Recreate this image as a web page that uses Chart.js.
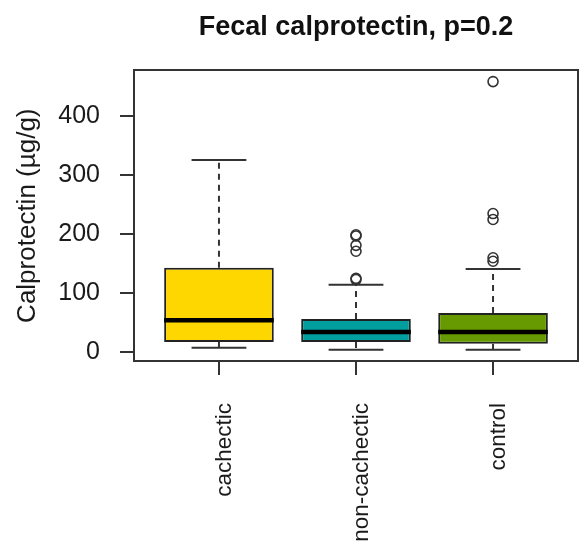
<!DOCTYPE html>
<html>
<head>
<meta charset="utf-8">
<script src="https://cdn.jsdelivr.net/npm/chart.js@4.4.1/dist/chart.umd.min.js"></script>
<style>
  html, body { margin: 0; padding: 0; background: #ffffff; }
  #wrap { width: 579px; height: 543px; }
</style>
</head>
<body>
<div id="wrap"><canvas id="c" width="579" height="543"></canvas></div>
<script>
// ---- data ----
const categories = ['cachectic', 'non-cachectic', 'control'];
const lowerWhisker = [7, 4, 4];
const q1 = [17, 17, 14];
const median = [54, 34, 34];
const q3 = [143, 56, 66];
const upperWhisker = [326, 114, 141];
const outliersCachectic = [];
const outliersNonCachectic = [123, 125, 171, 181, 197, 199];
const outliersControl = [154, 160, 225, 235, 459];
const yTickValues = [0, 100, 200, 300, 400];
const boxColors = ['#FFD700', '#009E9E', '#669A00'];

// ---- derived structures for the library ----
const positions = categories.map((_, i) => i + 1);
const halfBox = 0.4, halfCap = 0.2;
const allOutliers = [outliersCachectic, outliersNonCachectic, outliersControl];

const boxData = positions.map((p, i) => ({ x: p, y: [q1[i], q3[i]] }));
const medianData = [];
const whiskerData = [];
const capData = [];
positions.forEach((p, i) => {
  medianData.push({ x: p - halfBox, y: median[i] }, { x: p + halfBox, y: median[i] }, { x: p, y: null });
  whiskerData.push({ x: p, y: q3[i] }, { x: p, y: upperWhisker[i] }, { x: p, y: null });
  whiskerData.push({ x: p, y: q1[i] }, { x: p, y: lowerWhisker[i] }, { x: p, y: null });
  capData.push({ x: p - halfCap, y: upperWhisker[i] }, { x: p + halfCap, y: upperWhisker[i] }, { x: p, y: null });
  capData.push({ x: p - halfCap, y: lowerWhisker[i] }, { x: p + halfCap, y: lowerWhisker[i] }, { x: p, y: null });
});
const outlierData = [];
allOutliers.forEach((arr, i) => arr.forEach(v => outlierData.push({ x: positions[i], y: v })));

const FONT = '"Liberation Sans", Arial, Helvetica, sans-serif';
const INK = '#1a1a1a';
const AXIS = '#333333';

new Chart(document.getElementById('c'), {
  type: 'bar',
  data: {
    datasets: [
      {
        type: 'scatter', data: outlierData, order: 0,
        pointStyle: 'circle', pointRadius: 5, borderWidth: 1.6,
        borderColor: '#333333', backgroundColor: 'rgba(0,0,0,0)'
      },
      {
        type: 'line', data: medianData, order: 1,
        borderColor: '#000000', borderWidth: 4.5, pointRadius: 0, spanGaps: false, tension: 0, fill: false
      },
      {
        type: 'line', data: capData, order: 2,
        borderColor: '#333333', borderWidth: 2, pointRadius: 0, spanGaps: false, tension: 0, fill: false
      },
      {
        type: 'line', data: whiskerData, order: 3,
        borderColor: '#333333', borderWidth: 2, borderDash: [6, 5], pointRadius: 0, spanGaps: false, tension: 0, fill: false
      },
      {
        type: 'bar', data: boxData, order: 4,
        backgroundColor: boxColors, borderColor: '#222222', borderWidth: 2, borderSkipped: false,
        categoryPercentage: 0.8, barPercentage: 1.0
      }
    ]
  },
  options: {
    responsive: false,
    animation: false,
    layout: { autoPadding: false, padding: { left: 0, right: 1, top: 0, bottom: 0 } },
    plugins: {
      legend: { display: false },
      tooltip: { enabled: false },
      title: {
        display: true,
        text: 'Fecal calprotectin, p=0.2',
        color: '#111111',
        font: { family: FONT, size: 27, weight: 'bold' },
        padding: { top: 11, bottom: 27 },
        fullSize: false
      }
    },
    scales: {
      x: {
        type: 'linear',
        position: 'bottom',
        offset: false,
        min: 0.38, max: 3.62,
        afterBuildTicks: (scale) => { scale.ticks = positions.map(v => ({ value: v })); },
        afterFit: (scale) => { scale.height = 182; scale.paddingLeft = 0; scale.paddingRight = 0; },
        grid: { display: true, offset: false, drawOnChartArea: false, drawTicks: true, tickLength: 14, color: AXIS, lineWidth: 2 },
        border: { display: true, color: AXIS, width: 2 },
        ticks: {
          autoSkip: false, minRotation: 90, maxRotation: 90, padding: 28, labelOffset: 6,
          color: INK, font: { family: FONT, size: 22.5 },
          callback: (v) => categories[positions.indexOf(v)]
        }
      },
      xTop: {
        type: 'linear', position: 'top', offset: false, min: 0.38, max: 3.62,
        afterFit: (scale) => { scale.height = 0; scale.paddingLeft = 0; scale.paddingRight = 0; },
        grid: { display: false, drawTicks: false },
        border: { display: true, color: AXIS, width: 2 },
        ticks: { display: false }
      },
      y: {
        type: 'linear',
        position: 'left',
        min: -15.3, max: 478,
        afterBuildTicks: (scale) => { scale.ticks = yTickValues.map(v => ({ value: v })); },
        afterFit: (scale) => { scale.width = 134; },
        grid: { display: true, drawOnChartArea: false, drawTicks: true, tickLength: 14, color: AXIS, lineWidth: 2 },
        border: { display: true, color: AXIS, width: 2 },
        ticks: { padding: 20, color: INK, font: { family: FONT, size: 25 } },
        title: {
          display: true, text: 'Calprotectin (µg/g)', color: INK,
          font: { family: FONT, size: 26 }, padding: { top: 12, bottom: 0 }
        }
      },
      yRight: {
        type: 'linear', position: 'right', min: -15.3, max: 478,
        afterFit: (scale) => { scale.width = 0; },
        grid: { display: false, drawTicks: false },
        border: { display: true, color: AXIS, width: 2 },
        ticks: { display: false }
      }
    }
  }
});
</script>
</body>
</html>
